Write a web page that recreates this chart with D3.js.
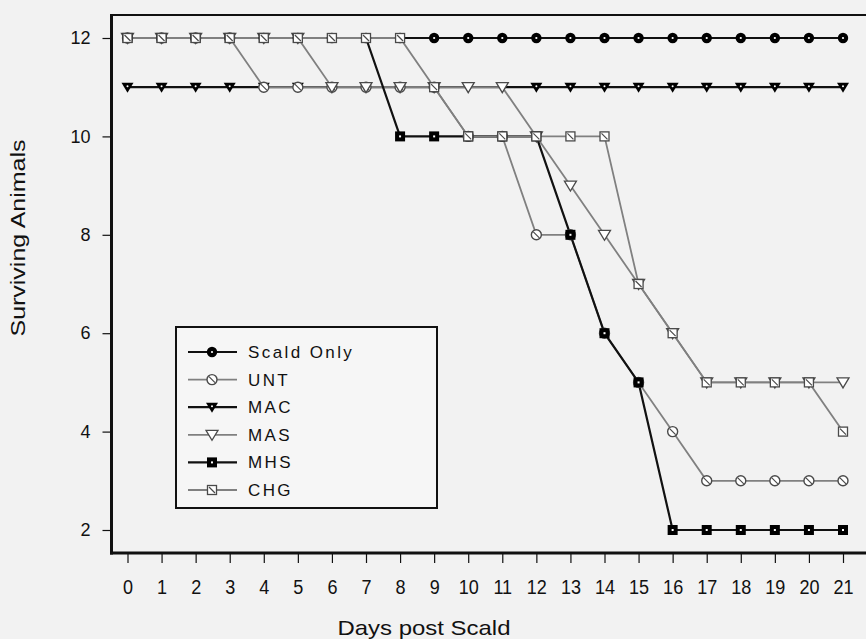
<!DOCTYPE html>
<html>
<head>
<meta charset="utf-8">
<script src="https://cdn.jsdelivr.net/npm/d3@7"></script>
<style>
  html, body { margin: 0; padding: 0; background: #f2f2f2; }
  svg { display: block; font-family: "Liberation Sans", Arial, sans-serif; }
</style>
</head>
<body>
<div id="chart"></div>
<script>
const W = 866, H = 639;

// data
const days = d3.range(0, 22);
const seriesNames = ['Scald Only', 'UNT', 'MAC', 'MAS', 'MHS', 'CHG'];
const scaldOnly = [12,12,12,12,12,12,12,12,12,12,12,12,12,12,12,12,12,12,12,12,12,12];
const unt       = [12,12,12,12,11,11,11,11,11,11,10,10, 8, 8, 6, 5, 4, 3, 3, 3, 3, 3];
const mac       = [11,11,11,11,11,11,11,11,11,11,11,11,11,11,11,11,11,11,11,11,11,11];
const mas       = [12,12,12,12,12,12,11,11,11,11,11,11,10, 9, 8, 7, 6, 5, 5, 5, 5, 5];
const mhs       = [12,12,12,12,12,12,12,12,10,10,10,10,10, 8, 6, 5, 2, 2, 2, 2, 2, 2];
const chg       = [12,12,12,12,12,12,12,12,12,11,10,10,10,10,10, 7, 6, 5, 5, 5, 5, 4];
const yTicks = [2, 4, 6, 8, 10, 12];

const BLACK = '#111', GREY = '#808080', OUTLINE = '#4a4a4a';

const styles = [
  { values: scaldOnly, color: BLACK, width: 2.2, marker: 'circleFill' },
  { values: unt,       color: GREY,  width: 1.8, marker: 'circleOpen' },
  { values: mac,       color: BLACK, width: 2.2, marker: 'triFill' },
  { values: mas,       color: GREY,  width: 1.8, marker: 'triOpen' },
  { values: mhs,       color: BLACK, width: 2.2, marker: 'squareFill' },
  { values: chg,       color: GREY,  width: 1.8, marker: 'squareOpen' }
];
// which series sits on top where they overlap
const drawOrder = [0, 2, 1, 3, 4, 5];

const x = d3.scaleLinear().domain([0, 21]).range([127.5, 843]);
const y = d3.scaleLinear().domain([2, 12]).range([530, 38]);

const svg = d3.select('#chart').append('svg')
  .attr('width', W).attr('height', H);

svg.append('rect').attr('width', W).attr('height', H).attr('fill', '#f2f2f2');

// frame
svg.append('line').attr('x1', 110).attr('x2', W).attr('y1', 15).attr('y2', 15)
  .attr('stroke', '#111').attr('stroke-width', 2);

// y axis
const yAxis = svg.append('g').attr('transform', 'translate(111.5,0)')
  .call(d3.axisLeft(y).tickValues(yTicks).tickSize(9).tickSizeOuter(0).tickPadding(12));
yAxis.select('.domain').remove();
yAxis.selectAll('.tick line').attr('stroke', '#111').attr('stroke-width', 1.2);
yAxis.selectAll('.tick text').attr('font-size', 18).attr('fill', '#111')
  .attr('font-family', '"Liberation Sans", Arial, sans-serif');
svg.append('line').attr('x1', 111.5).attr('x2', 111.5).attr('y1', 14).attr('y2', 554.5)
  .attr('stroke', '#111').attr('stroke-width', 3);

// x axis
const xAxis = svg.append('g').attr('transform', 'translate(0,553)')
  .call(d3.axisBottom(x).tickValues(days).tickSize(10).tickSizeOuter(0).tickPadding(16));
xAxis.select('.domain').remove();
xAxis.selectAll('.tick line').attr('stroke', '#111').attr('stroke-width', 1.2);
xAxis.selectAll('.tick text').attr('font-size', 21).attr('fill', '#111')
  .attr('font-family', '"Liberation Sans", Arial, sans-serif')
  .attr('transform', 'scale(0.86,1)');
svg.append('line').attr('x1', 110).attr('x2', W).attr('y1', 553).attr('y2', 553)
  .attr('stroke', '#111').attr('stroke-width', 3);

// axis titles
svg.append('text')
  .attr('x', 424).attr('y', 635)
  .attr('text-anchor', 'middle')
  .attr('font-size', 21).attr('fill', '#111')
  .attr('textLength', 173).attr('lengthAdjust', 'spacingAndGlyphs')
  .text('Days post Scald');

svg.append('text')
  .attr('transform', 'translate(25,238) rotate(-90)')
  .attr('text-anchor', 'middle')
  .attr('font-size', 21).attr('fill', '#111')
  .attr('textLength', 197).attr('lengthAdjust', 'spacingAndGlyphs')
  .text('Surviving Animals');

function drawMarker(g, type, cx, cy) {
  const m = g.append('g').attr('transform', `translate(${cx},${cy})`);
  if (type === 'circleFill') {
    m.append('circle').attr('r', 5.2).attr('fill', '#000');
    m.append('circle').attr('r', 1.1).attr('fill', '#fff');
  } else if (type === 'circleOpen') {
    m.append('circle').attr('r', 5).attr('fill', '#fff').attr('stroke', OUTLINE).attr('stroke-width', 1.4);
    m.append('line').attr('x1', -3).attr('y1', -3).attr('x2', 3).attr('y2', 3)
      .attr('stroke', OUTLINE).attr('stroke-width', 1.2);
  } else if (type === 'triFill') {
    m.append('path').attr('d', 'M-6,-4.5 L6,-4.5 L0,5.5 Z').attr('fill', '#000');
    m.append('circle').attr('cy', -1).attr('r', 1).attr('fill', '#fff');
  } else if (type === 'triOpen') {
    m.append('path').attr('d', 'M-6,-4.5 L6,-4.5 L0,5.5 Z').attr('fill', '#fff')
      .attr('stroke', OUTLINE).attr('stroke-width', 1.3);
  } else if (type === 'squareFill') {
    m.append('rect').attr('x', -5).attr('y', -5).attr('width', 10).attr('height', 10).attr('fill', '#000');
    m.append('rect').attr('x', -1).attr('y', -1).attr('width', 2).attr('height', 2).attr('fill', '#fff');
  } else {
    m.append('rect').attr('x', -4.5).attr('y', -4.5).attr('width', 9).attr('height', 9)
      .attr('fill', '#fff').attr('stroke', OUTLINE).attr('stroke-width', 1.3);
    m.append('line').attr('x1', -3).attr('y1', -3).attr('x2', 3).attr('y2', 3)
      .attr('stroke', OUTLINE).attr('stroke-width', 1.2);
  }
}

const line = d3.line().x((d, i) => x(days[i])).y(d => y(d));

const linesG = svg.append('g');
const marksG = svg.append('g');
drawOrder.forEach(k => {
  const s = styles[k];
  linesG.append('path').attr('d', line(s.values))
    .attr('fill', 'none').attr('stroke', s.color).attr('stroke-width', s.width);
  s.values.forEach((v, i) => drawMarker(marksG, s.marker, x(days[i]), y(v)));
});

// legend
const leg = svg.append('g');
leg.append('rect').attr('x', 176).attr('y', 327).attr('width', 261).attr('height', 181)
  .attr('fill', '#f6f6f6').attr('stroke', '#111').attr('stroke-width', 2);
const legY = d3.scalePoint().domain(seriesNames).range([352, 490]);
seriesNames.forEach((name, i) => {
  const s = styles[i];
  const cy = legY(name);
  leg.append('line').attr('x1', 188).attr('x2', 237).attr('y1', cy).attr('y2', cy)
    .attr('stroke', s.color).attr('stroke-width', s.width);
  drawMarker(leg, s.marker, 212, cy);
  leg.append('text').attr('x', 248).attr('y', cy + 6)
    .attr('font-size', 17).attr('fill', '#111')
    .attr('letter-spacing', 2.4)
    .text(name);
});
</script>
</body>
</html>
